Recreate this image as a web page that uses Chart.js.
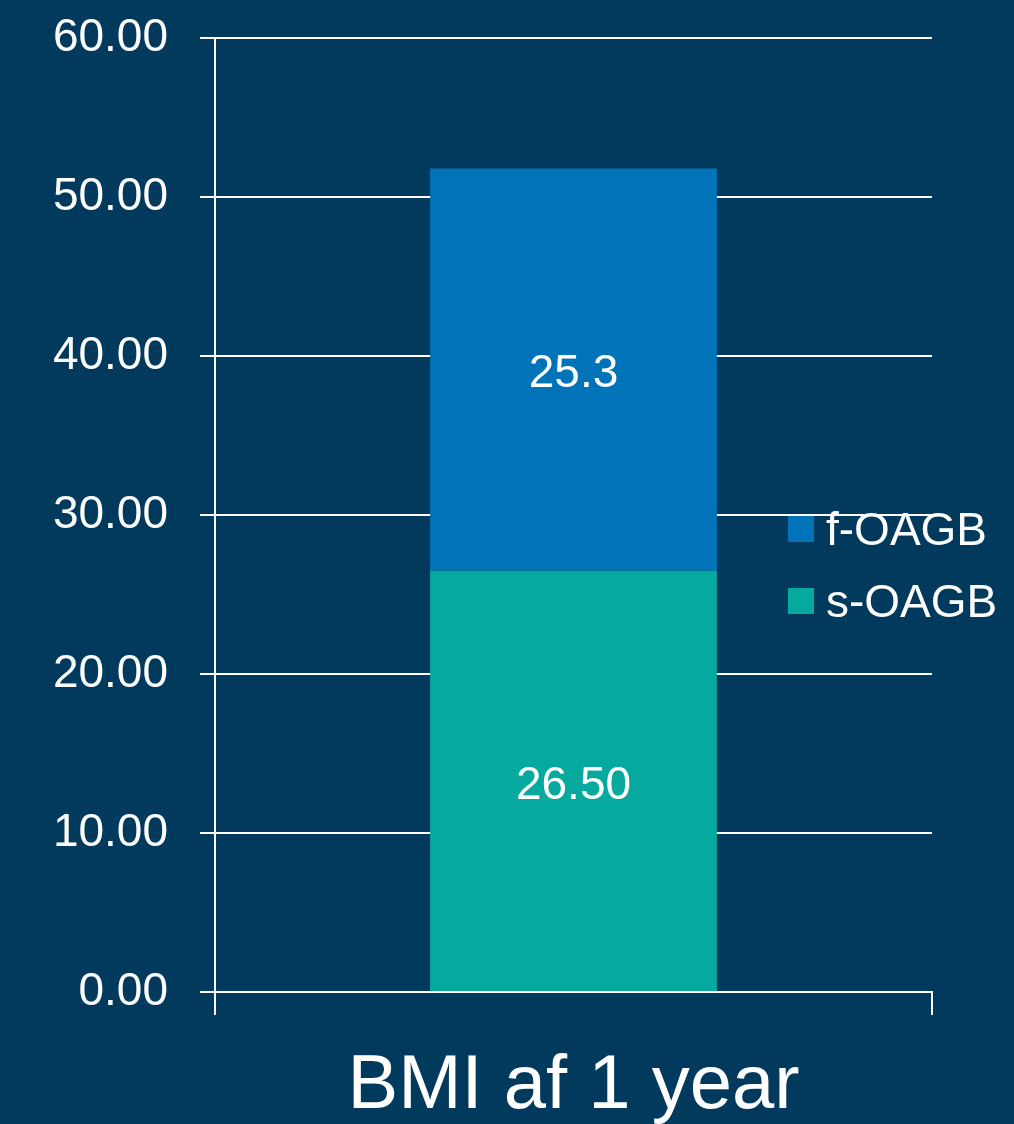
<!DOCTYPE html>
<html>
<head>
<meta charset="utf-8">
<script src="https://cdn.jsdelivr.net/npm/chart.js@4/dist/chart.umd.min.js"></script>
<style>
  body { margin: 0; background: #023a5d; }
  canvas { display: block; }
</style>
</head>
<body>
<canvas id="myChart" width="1014" height="1124"></canvas>
<script>
var categories = ["BMI af 1 year"];
var sValues = [26.5];
var fValues = [25.3];
var yTicks = [0, 10, 20, 30, 40, 50, 60];

var FONT = "'Liberation Sans', Arial, sans-serif";

// background fill
var bgPlugin = {
  id: 'bg',
  beforeDraw: function(chart) {
    var ctx = chart.ctx;
    ctx.save();
    ctx.fillStyle = '#023a5d';
    ctx.fillRect(0, 0, chart.width, chart.height);
    ctx.restore();
  }
};

// value labels in the middle of each bar segment
var valuePlugin = {
  id: 'values',
  afterDatasetsDraw: function(chart) {
    var ctx = chart.ctx;
    ctx.save();
    ctx.fillStyle = '#ffffff';
    ctx.font = '46px ' + FONT;
    ctx.textAlign = 'center';
    ctx.textBaseline = 'middle';
    chart.data.datasets.forEach(function(ds, i) {
      var meta = chart.getDatasetMeta(i);
      meta.data.forEach(function(bar, j) {
        var txt = ds.data[j].toFixed(ds.decimals);
        ctx.fillText(txt, bar.x, (bar.y + bar.base) / 2 + 5);
      });
    });
    ctx.restore();
  }
};

// legend drawn on top of the plot area, right side
var legendPlugin = {
  id: 'sideLegend',
  afterDatasetsDraw: function(chart) {
    var ctx = chart.ctx;
    var x = 788, y = 516;
    ctx.save();
    ctx.font = '46px ' + FONT;
    ctx.textBaseline = 'middle';
    chart.data.datasets.slice().reverse().forEach(function(ds) {
      ctx.fillStyle = ds.backgroundColor;
      ctx.fillRect(x, y, 26, 26);
      ctx.fillStyle = '#ffffff';
      ctx.fillText(ds.label, x + 38, y + 16);
      y += 72;
    });
    ctx.restore();
  }
};

var ctx = document.getElementById('myChart').getContext('2d');
var chart = new Chart(ctx, {
  type: 'bar',
  data: {
    labels: categories,
    datasets: [{
      label: 's-OAGB',
      data: sValues,
      backgroundColor: '#05a99e',
      decimals: 2,
      barPercentage: 0.4,
      categoryPercentage: 1
    }, {
      label: 'f-OAGB',
      data: fValues,
      backgroundColor: '#0173b8',
      decimals: 1,
      barPercentage: 0.4,
      categoryPercentage: 1
    }]
  },
  options: {
    responsive: false,
    animation: false,
    layout: { padding: { left: 0, right: 82, top: 38, bottom: 0 } },
    plugins: {
      legend: { display: false },
      tooltip: { enabled: false }
    },
    scales: {
      x: {
        stacked: true,
        afterFit: function(axis) { axis.height = 132; axis.paddingLeft = 0; axis.paddingRight = 0; },
        grid: { drawOnChartArea: false, color: '#ffffff', lineWidth: 2, tickLength: 23 },
        border: { display: true, color: '#ffffff', width: 2 },
        ticks: { color: '#ffffff', font: { size: 76, family: FONT, lineHeight: 1.2 }, padding: 26 }
      },
      y: {
        stacked: true,
        min: 0,
        max: 60,
        afterFit: function(axis) { axis.width = 215; axis.paddingTop = 0; axis.paddingBottom = 0; },
        afterBuildTicks: function(axis) {
          axis.ticks = yTicks.map(function(v) { return { value: v }; });
        },
        grid: { color: '#ffffff', lineWidth: 2, tickLength: 15 },
        border: { display: true, color: '#ffffff', width: 2 },
        ticks: {
          color: '#ffffff',
          font: { size: 46, family: FONT },
          padding: 32,
          callback: function(v) { return Number(v).toFixed(2); }
        }
      }
    }
  },
  plugins: [bgPlugin, valuePlugin, legendPlugin]
});
</script>
</body>
</html>
